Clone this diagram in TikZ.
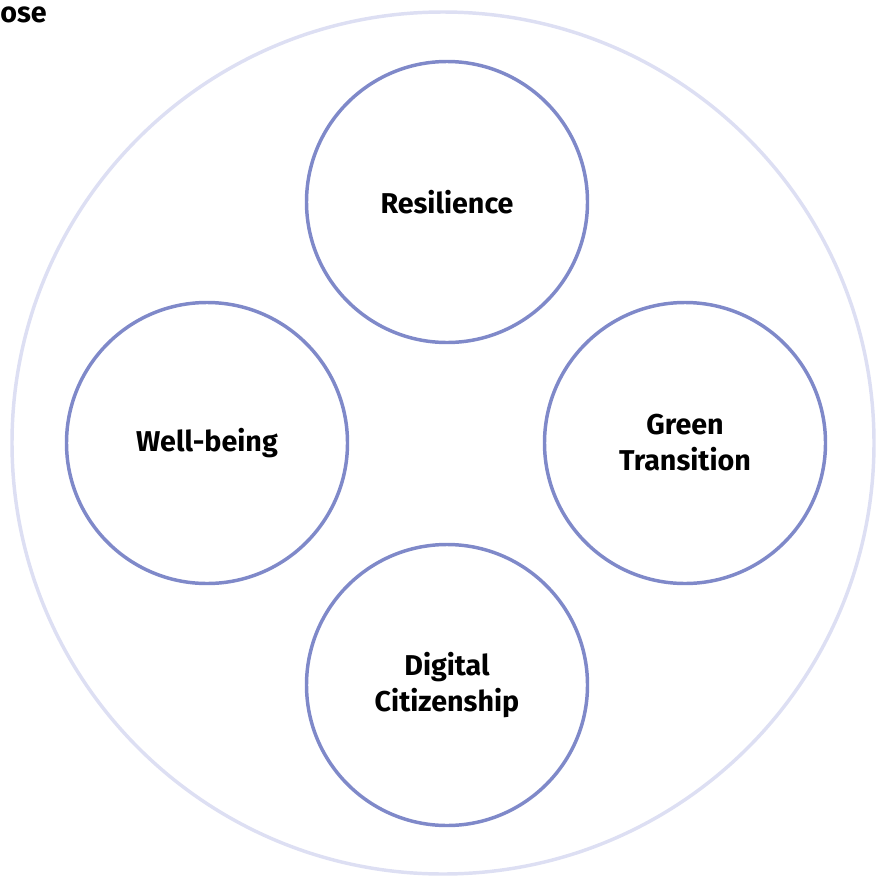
\documentclass[tikz,border=0pt]{standalone}
\usepackage{fontspec}
\setmainfont{Fira Sans}
\usepackage{xcolor}
\usetikzlibrary{positioning}
\definecolor{ringblue}{HTML}{7F89C9}
\definecolor{outerring}{HTML}{DDDFF3}

\begin{document}
\begin{tikzpicture}[x=0.75pt, y=-0.75pt, semithick,
                    font=\bfseries\fontsize{21.5}{27}\selectfont]
\tikzstyle{pillar}=[shape=circle, draw=ringblue, line width=2.6pt,
                    minimum size=281*0.75pt, inner sep=0pt, align=center]
  \useasboundingbox (0,0) rectangle (876,878);
  \node[circle, draw=outerring, line width=2.6pt, minimum size=862*0.75pt] (outer) at (443,443) {};
  \node[anchor=base west, inner sep=0pt] (title) at (0,22) {ose};
  \node[pillar] (res) at (447,202) {Resilience};
  \node[pillar] (well) at (207,443) {Well-being};
  \node[pillar] (green) at (685,443) {Green\\Transition};
  \node[pillar] (digi) at (447,685) {Digital\\Citizenship};
\end{tikzpicture}
\end{document}
